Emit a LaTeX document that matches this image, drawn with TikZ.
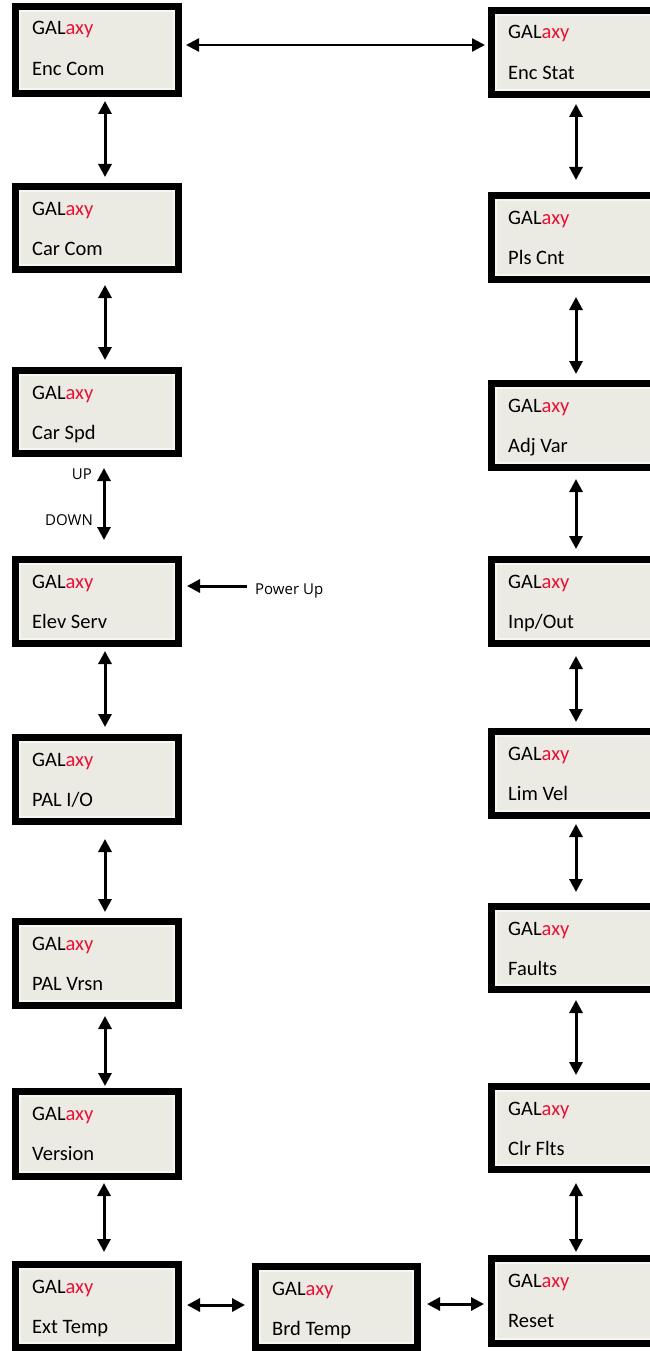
\documentclass[tikz,border=0pt]{standalone}
\usepackage{fontspec}
\setmainfont{Carlito}
\newfontfamily\labelfont{Open Sans}
\usetikzlibrary{arrows.meta}

\definecolor{galred}{RGB}{232,16,52}
\definecolor{galfill}{RGB}{236,235,227}
\definecolor{galrim}{RGB}{246,246,242}

\tikzset{
  galbox/.style={draw=black, line width=7pt, outer sep=3.5pt, fill=galfill,
    inner sep=0pt,
    path picture={\draw[galrim, line width=11pt]
      (path picture bounding box.south west) rectangle
      (path picture bounding box.north east);}},
  galtxt/.style={inner sep=0pt, font=\fontsize{20.5}{24}\selectfont},
  smalltxt/.style={inner sep=0pt, font=\labelfont\fontsize{15}{18}\selectfont},
  tip/.tip={Triangle[width=13pt,length=13pt]},
  link/.style={line width=3pt, tip-tip},
  feed/.style={line width=3pt, -tip},
}

% #1 name, #2 left, #3 top, #4 right, #5 bottom, #6 menu entry
\newcommand\galmenu[6]{%
  \node[galbox, minimum width={#4pt-#2pt-7pt}, minimum height={#5pt-#3pt-7pt}]
    (#1) at ({(#2+#4)/2},{(#3+#5)/2}) {};
  \node[galtxt, anchor=base west] (#1-a) at ([shift={(20,32)}]#1.north west)
    {GAL\textcolor{galred}{axy}};
  \node[galtxt, anchor=base west] (#1-b) at ([shift={(20,72.5)}]#1.north west) {#6};
}

\begin{document}
\begin{tikzpicture}[x=1pt, y=-1pt]
\useasboundingbox (0,0) rectangle (650,1351);

% left column
\galmenu{enccom}{12}{3}{182}{97}{Enc Com}
\galmenu{carcom}{12}{183}{182}{273}{Car Com}
\galmenu{carspd}{12}{367}{182}{457}{Car Spd}
\galmenu{elevserv}{12}{556}{182}{647}{Elev Serv}
\galmenu{palio}{12}{734}{182}{825}{PAL I/O}
\galmenu{palvrsn}{12}{918}{182}{1009}{PAL Vrsn}
\galmenu{version}{12}{1088}{182}{1180}{Version}
\galmenu{exttemp}{12}{1261}{182}{1351}{Ext Temp}

% bottom middle
\galmenu{brdtemp}{252}{1263}{421}{1351}{Brd Temp}

% right column
\galmenu{encstat}{488}{7}{660}{98}{Enc Stat}
\galmenu{plscnt}{488}{192}{660}{283}{Pls Cnt}
\galmenu{adjvar}{488}{380}{660}{471}{Adj Var}
\galmenu{inpout}{488}{556}{660}{647}{Inp/Out}
\galmenu{limvel}{488}{728}{660}{819}{Lim Vel}
\galmenu{faults}{488}{903}{660}{993}{Faults}
\galmenu{clrflts}{488}{1083}{660}{1173}{Clr Flts}
\galmenu{reset}{488}{1255}{660}{1347}{Reset}

% left column links
\draw[link, shorten <=4pt, shorten >=6pt] ([xshift=8pt]enccom.south) -- ([xshift=8pt]carcom.north);
\draw[link, shorten <=12pt, shorten >=7pt] ([xshift=8pt]carcom.south) -- ([xshift=8pt]carspd.north);
\draw[link, shorten <=11pt, shorten >=16pt] ([xshift=7pt]carspd.south) -- ([xshift=7pt]elevserv.north);
\draw[link, shorten <=4pt, shorten >=7pt] ([xshift=8pt]elevserv.south) -- ([xshift=8pt]palio.north);
\draw[link, shorten <=14pt, shorten >=6pt] ([xshift=8pt]palio.south) -- ([xshift=8pt]palvrsn.north);
\draw[link, shorten <=7pt, shorten >=2pt] ([xshift=8pt]palvrsn.south) -- ([xshift=8pt]version.north);
\draw[link, shorten <=3pt, shorten >=9pt] ([xshift=7pt]version.south) -- ([xshift=7pt]exttemp.north);

% right column links
\draw[link, shorten <=6pt, shorten >=12pt] ([xshift=2pt]encstat.south) -- ([xshift=2pt]plscnt.north);
\draw[link, shorten <=14pt, shorten >=6pt] ([xshift=2pt]plscnt.south) -- ([xshift=2pt]adjvar.north);
\draw[link, shorten <=8pt, shorten >=7pt] ([xshift=2pt]adjvar.south) -- ([xshift=2pt]inpout.north);
\draw[link, shorten <=9pt, shorten >=6pt] ([xshift=2pt]inpout.south) -- ([xshift=2pt]limvel.north);
\draw[link, shorten <=5pt, shorten >=11pt] ([xshift=2pt]limvel.south) -- ([xshift=2pt]faults.north);
\draw[link, shorten <=7pt, shorten >=8pt] ([xshift=2pt]faults.south) -- ([xshift=2pt]clrflts.north);
\draw[link, shorten <=10pt, shorten >=3pt] ([xshift=2pt]clrflts.south) -- ([xshift=2pt]reset.north);

% horizontal links
\draw[link, line width=2.4pt, shorten <=4pt, shorten >=3pt] ([yshift=5pt]enccom.east) -- ([yshift=5pt]enccom.east -| encstat.west);
\draw[link, shorten <=5pt, shorten >=7pt] ([yshift=1pt]exttemp.east) -- ([yshift=1pt]exttemp.east -| brdtemp.west);
\draw[link, shorten <=6pt, shorten >=4pt] ([yshift=3pt]brdtemp.east) -- ([yshift=3pt]brdtemp.east -| reset.west);

% power-up entry point
\coordinate (pwr) at (247,586);
\draw[feed, shorten >=5pt] (pwr) -- (pwr -| elevserv.east);
\node[smalltxt, anchor=base west] (pwrtxt) at (255,594) {Power Up};

% direction labels on the speed link
\node[smalltxt, anchor=base east] (uptxt) at (92,479) {UP};
\node[smalltxt, anchor=base east] (downtxt) at (93,525) {DOWN};
\end{tikzpicture}
\end{document}
